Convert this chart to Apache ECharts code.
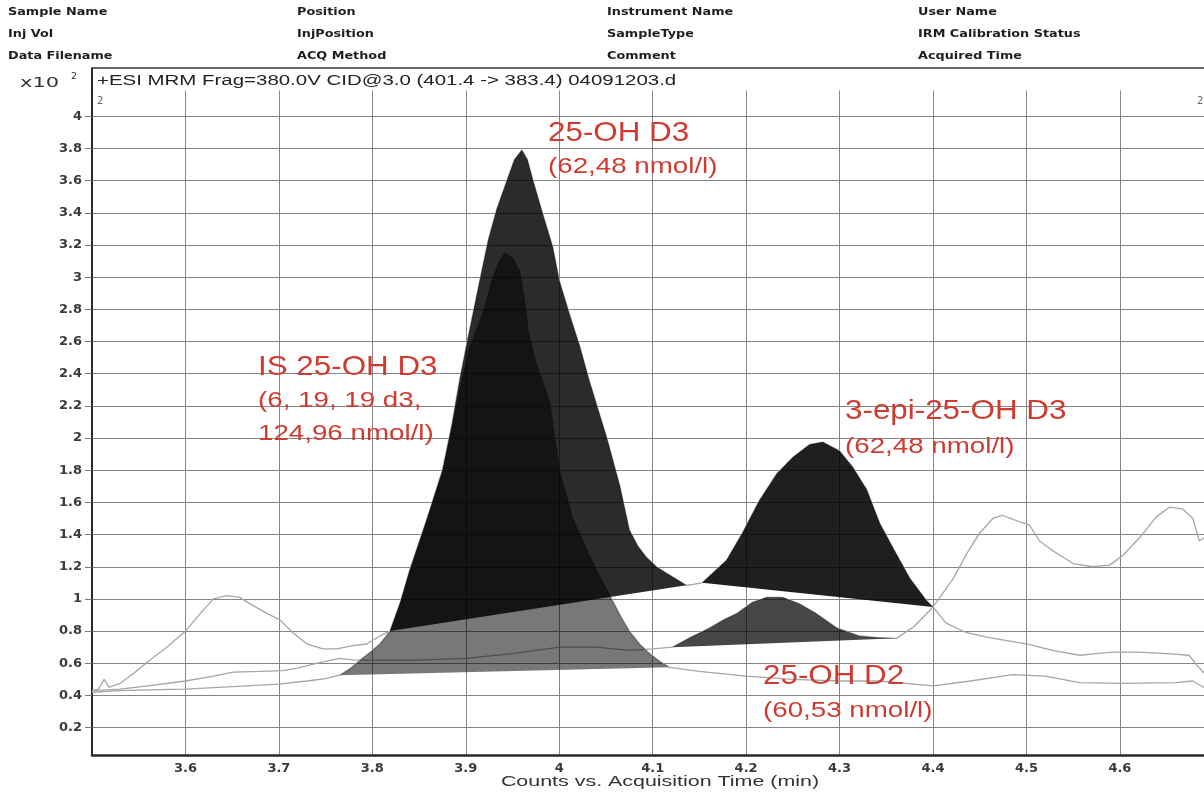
<!DOCTYPE html>
<html>
<head>
<meta charset="utf-8">
<script src="https://cdn.jsdelivr.net/npm/echarts@6/dist/echarts.min.js"></script>
<style>html,body{margin:0;padding:0;background:#fff}#c{width:1204px;height:793px}</style>
</head>
<body>
<div id="c"></div>
<script>
// ---------------- DATA ----------------
// y axis: Counts (x10^2), x axis: Acquisition Time (min)
const yTickValues = [0.2,0.4,0.6,0.8,1.0,1.2,1.4,1.6,1.8,2.0,2.2,2.4,2.6,2.8,3.0,3.2,3.4,3.6,3.8,4.0];
const yTickLabels = ['0.2','0.4','0.6','0.8','1','1.2','1.4','1.6','1.8','2','2.2','2.4','2.6','2.8','3','3.2','3.4','3.6','3.8','4'];
const xTickLabels = ['3.6','3.7','3.8','3.9','4','4.1','4.2','4.3','4.4','4.5','4.6'];

// Trace 1: 25-OH D3 / 3-epi-25-OH D3 transition (401.4 -> 383.4)
const d3Time = [3.500,3.507,3.513,3.518,3.530,3.545,3.562,3.580,3.600,3.616,3.630,3.644,3.658,3.672,3.687,3.701,3.715,3.730,3.747,3.762,3.779,3.794,3.808,
  3.819,3.830,3.840,3.858,3.875,3.885,3.894,3.904,3.915,3.924,3.933,3.944,3.952,3.960,3.966,3.972,3.982,3.993,4.000,4.011,4.022,4.032,4.042,4.051,4.065,4.075,4.084,4.093,4.104,4.115,4.126,4.136,
  4.143,
  4.153,4.166,4.179,4.196,4.214,4.233,4.250,4.268,4.282,4.300,4.314,4.329,4.343,4.357,4.375,4.393,4.400,
  4.414,4.436,4.460,4.500,4.528,4.557,4.575,4.592,4.620,4.650,4.674,4.682,4.690];
const d3Counts = [0.43,0.44,0.50,0.45,0.475,0.54,0.62,0.70,0.80,0.91,1.00,1.02,1.01,0.96,0.91,0.87,0.79,0.72,0.69,0.69,0.71,0.72,0.77,
  0.80,0.98,1.18,1.49,1.80,2.08,2.38,2.67,2.98,3.23,3.42,3.60,3.73,3.79,3.73,3.60,3.40,3.19,2.98,2.77,2.57,2.36,2.17,2.00,1.70,1.43,1.33,1.26,1.20,1.16,1.12,1.085,
  1.09,
  1.10,1.17,1.24,1.41,1.61,1.78,1.88,1.96,1.975,1.92,1.82,1.68,1.47,1.32,1.13,0.99,0.95,
  0.85,0.79,0.76,0.72,0.68,0.65,0.66,0.67,0.67,0.66,0.65,0.59,0.54];

// Trace 2: internal standard (IS 25-OH D3, d3)
const isTime = [3.500,3.530,3.560,3.600,3.650,3.700,3.730,3.750,
  3.765,3.777,3.787,3.798,3.808,3.819,3.830,3.840,3.858,3.875,3.886,3.896,3.904,3.918,3.929,3.936,3.942,3.950,3.958,3.963,3.967,3.975,3.990,4.000,4.015,4.033,4.045,4.057,4.066,4.075,4.086,4.097,4.108,4.118,
  4.150,4.200,4.250,4.300,4.343,4.400,4.440,4.485,4.520,4.557,4.600,4.660,4.678,4.690];
const isCounts = [0.42,0.43,0.435,0.44,0.455,0.47,0.49,0.505,
  0.526,0.57,0.62,0.67,0.72,0.80,0.98,1.17,1.48,1.79,2.08,2.36,2.56,2.77,3.00,3.10,3.15,3.12,3.03,2.85,2.65,2.47,2.22,1.80,1.49,1.26,1.12,0.99,0.89,0.80,0.72,0.66,0.61,0.575,
  0.55,0.52,0.50,0.49,0.49,0.46,0.49,0.53,0.52,0.48,0.475,0.48,0.49,0.45];

// Trace 3: 25-OH D2
const d2Time = [3.500,3.530,3.560,3.600,3.630,3.651,3.680,3.704,3.720,3.740,3.765,3.780,3.800,3.850,3.900,3.950,4.000,4.040,4.075,4.100,
  4.121,4.140,4.161,4.176,4.190,4.207,4.222,4.239,4.257,4.275,4.297,4.321,4.340,4.361,
  4.380,4.400,4.421,4.436,4.450,4.464,4.474,4.492,4.503,4.514,4.528,4.550,4.571,4.589,4.603,4.621,4.639,4.653,4.667,4.678,4.685,4.690];
const d2Counts = [0.43,0.44,0.46,0.49,0.52,0.545,0.55,0.555,0.57,0.60,0.63,0.62,0.62,0.62,0.63,0.66,0.70,0.70,0.68,0.69,
  0.70,0.76,0.82,0.87,0.91,0.98,1.01,1.01,0.97,0.91,0.82,0.77,0.76,0.755,
  0.83,0.95,1.12,1.28,1.41,1.50,1.52,1.48,1.46,1.36,1.30,1.22,1.20,1.21,1.27,1.38,1.51,1.57,1.56,1.50,1.36,1.38];

// Integrated peak windows [start, end] (min); baseline drawn between the trace points at these times
const isPeakWindow  = [3.765, 4.118];
const d3PeakWindow  = [3.819, 4.136];
const epiPeakWindow = [4.153, 4.400];
const d2PeakWindow  = [4.121, 4.361];

// ---------------- CHART ----------------
const chart = echarts.init(document.getElementById('c'), null, {renderer:'canvas'});

function pairs(t, c){ return t.map((v,i)=>[v, c[i]]); }

function peakSeries(t, c, win, fill, z){
  const pts = [];
  for (let i=0;i<t.length;i++){ if (t[i] >= win[0]-1e-9 && t[i] <= win[1]+1e-9) pts.push([t[i], c[i]]); }
  return {
    type:'custom', z:z, silent:true, clip:true,
    data: pts, encode:{x:0, y:1},
    renderItem: function(params, api){
      if (params.dataIndex !== 0) return null;
      return { type:'polygon', shape:{ points: pts.map(p => api.coord(p)) }, style:{ fill: fill } };
    }
  };
}

const traceStyle = {color:'#a6a6a6', width:1.3};
const lineSeries = (t,c) => ({type:'line', data:pairs(t,c), showSymbol:false, symbol:'none', silent:true, z:2, lineStyle:traceStyle, animation:false});

const RED = '#cf3b30';
const fontLbl = '"Liberation Sans", Arial, sans-serif';

function txt(x, y, text, size, opts){
  opts = opts || {};
  return {
    type:'text', x:x, y:y, scaleX: opts.sx || 1, z:100, silent:true,
    style:{ text:text, font:(opts.weight||'normal') + ' ' + size + 'px ' + (opts.family||fontLbl),
      fill: opts.color || RED, textAlign: opts.align || 'left', textVerticalAlign:'middle',
      align: opts.align || 'left', verticalAlign:'middle' }
  };
}

const hdrFont = '"DejaVu Sans", Verdana, sans-serif';
const hdr = (x,y,t) => txt(x, y, t, 10.5, {weight:'bold', family:hdrFont, color:'#1e1e1e', sx:1.22});

const option = {
  animation:false,
  backgroundColor:'#ffffff',
  grid:{ left:92, right:0, top:90.5, bottom:38, containLabel:false },
  xAxis:{
    type:'value', min:3.5, max:4.69, interval:0.1,
    axisLine:{ show:true, onZero:false, lineStyle:{ color:'#2a2a2a', width:2.5 } },
    axisTick:{ show:false },
    axisLabel:{ showMinLabel:false, showMaxLabel:false, margin:7,
      formatter: v => { const i = Math.round((v-3.6)/0.1); return (i>=0 && i<xTickLabels.length && Math.abs(v-(3.6+i*0.1))<1e-6) ? xTickLabels[i] : ''; },
      fontFamily:'"DejaVu Sans", sans-serif', fontWeight:'bold', fontSize:13, color:'#3a3a3a' },
    splitLine:{ show:true, lineStyle:{ color:'#858585', width:1 } }
  },
  yAxis:{
    type:'value', min:0.03, max:4.16,
    axisLine:{ show:true, lineStyle:{ color:'#2a2a2a', width:2 } },
    axisTick:{ show:true, customValues:yTickValues, length:7, lineStyle:{ color:'#777' } },
    axisLabel:{ customValues:yTickValues, margin:10,
      formatter: v => { const i = yTickValues.findIndex(t => Math.abs(t-v) < 1e-6); return i>=0 ? yTickLabels[i] : ''; },
      fontFamily:'"DejaVu Sans", sans-serif', fontWeight:'bold', fontSize:13, color:'#3a3a3a' },
    splitLine:{ show:true, lineStyle:{ color:'#858585', width:1 } }
  },
  series:[
    lineSeries(isTime, isCounts),
    lineSeries(d2Time, d2Counts),
    lineSeries(d3Time, d3Counts),
    peakSeries(isTime, isCounts, isPeakWindow, 'rgba(0,0,0,0.53)', 3),
    peakSeries(d3Time, d3Counts, d3PeakWindow, 'rgba(0,0,0,0.83)', 4),
    peakSeries(d3Time, d3Counts, epiPeakWindow, 'rgba(0,0,0,0.88)', 4),
    peakSeries(d2Time, d2Counts, d2PeakWindow, 'rgba(0,0,0,0.72)', 5)
  ],
  graphic:[
    hdr(8, 12, 'Sample Name'), hdr(8, 34, 'Inj Vol'), hdr(8, 56, 'Data Filename'),
    hdr(297, 12, 'Position'), hdr(297, 34, 'InjPosition'), hdr(297, 56, 'ACQ Method'),
    hdr(607, 12, 'Instrument Name'), hdr(607, 34, 'SampleType'), hdr(607, 56, 'Comment'),
    hdr(918, 12, 'User Name'), hdr(918, 34, 'IRM Calibration Status'), hdr(918, 56, 'Acquired Time'),
    { type:'line', z:100, silent:true, shape:{x1:91, y1:68, x2:1204, y2:68}, style:{stroke:'#333', lineWidth:1.5} },
    { type:'line', z:100, silent:true, shape:{x1:92, y1:68, x2:92, y2:92}, style:{stroke:'#2a2a2a', lineWidth:2} },
    txt(97, 81, '+ESI MRM Frag=380.0V CID@3.0 (401.4 -> 383.4) 04091203.d', 14, {color:'#222', sx:1.46}),
    txt(20, 83, 'x10', 14, {color:'#333', family:hdrFont, sx:1.5}),
    txt(71, 77, '2', 9.5, {color:'#333', family:hdrFont}),
    txt(97, 101, '2', 10, {color:'#666', family:hdrFont}),
    txt(1197, 101, '2', 10, {color:'#666', family:hdrFont}),
    txt(660, 782, 'Counts vs. Acquisition Time (min)', 14, {color:'#333', family:fontLbl, sx:1.53, align:'center'}),
    txt(548, 133, '25-OH D3', 28, {sx:1.12}),
    txt(548, 167, '(62,48 nmol/l)', 22, {sx:1.26}),
    txt(258, 367, 'IS 25-OH D3', 28, {sx:1.12}),
    txt(258, 401, '(6, 19, 19 d3,', 22, {sx:1.26}),
    txt(258, 434, '124,96 nmol/l)', 22, {sx:1.26}),
    txt(845, 411, '3-epi-25-OH D3', 28, {sx:1.12}),
    txt(845, 447, '(62,48 nmol/l)', 22, {sx:1.26}),
    txt(763, 676, '25-OH D2', 28, {sx:1.12}),
    txt(763, 711, '(60,53 nmol/l)', 22, {sx:1.26})
  ]
};
chart.setOption(option);
</script>
</body>
</html>
